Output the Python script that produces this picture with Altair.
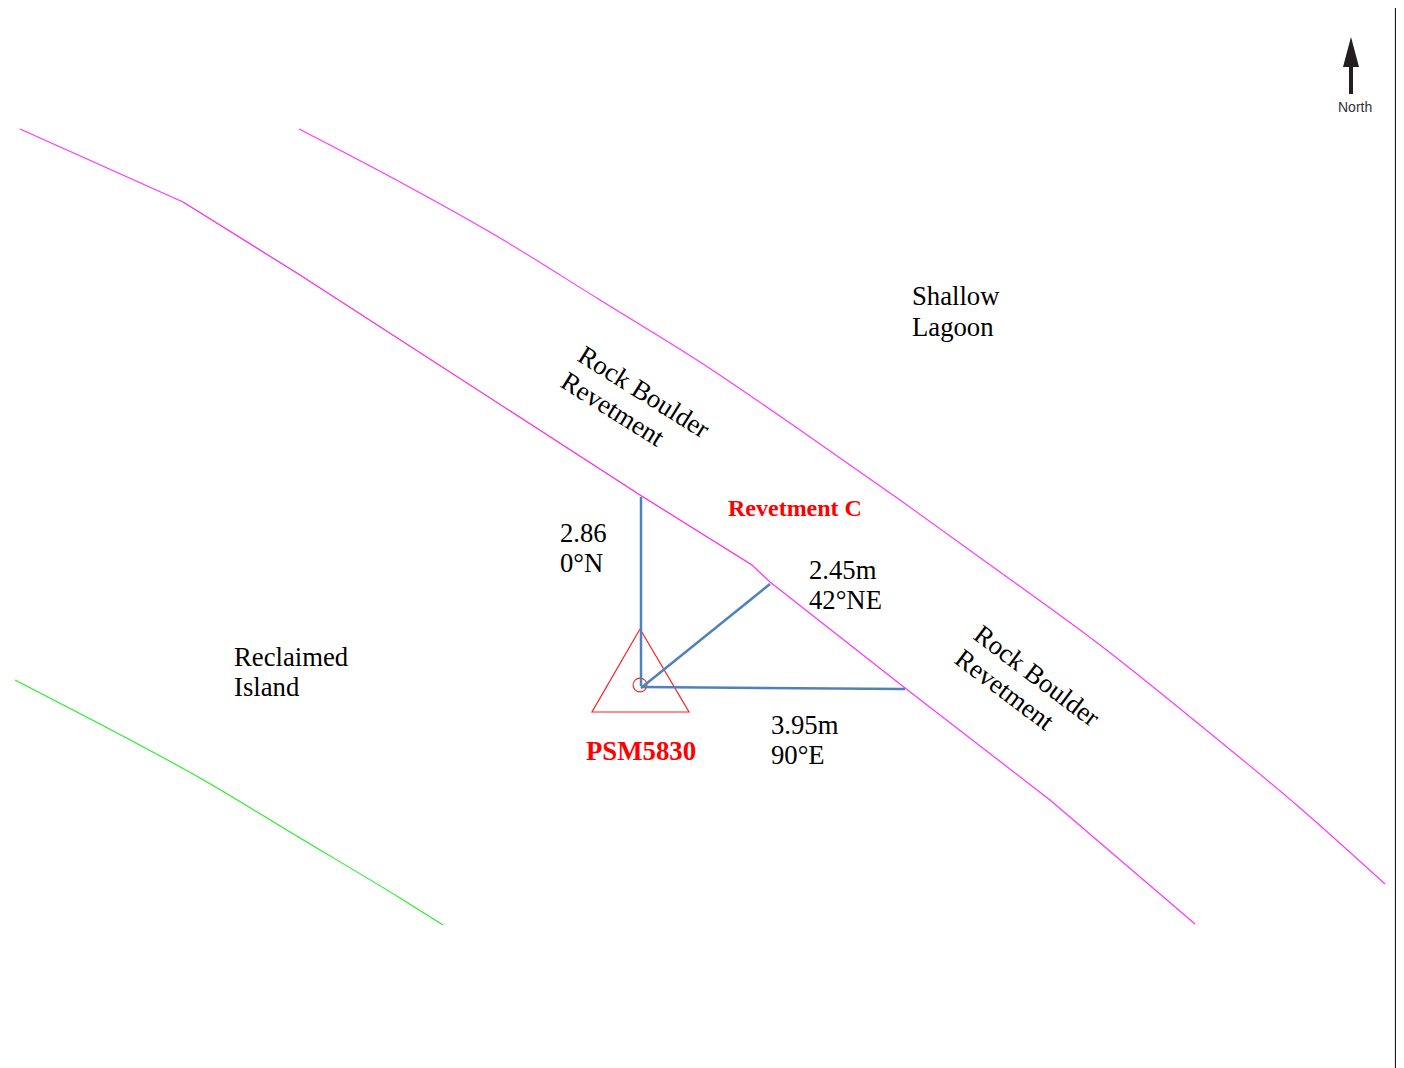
import altair as alt
import pandas as pd

# Map coordinates (x east, y south)
rev_inner_x = [20, 183, 300, 640, 752, 770, 905, 1050, 1195]
rev_inner_y = [129, 202, 275, 495, 565, 582, 688, 800, 924]
rev_outer_x = [299, 400, 500, 600, 700, 800, 900, 1000, 1100, 1200, 1300, 1385]
rev_outer_y = [129, 182, 238, 300, 362, 430, 500, 572, 645, 725, 808, 884]
seam_x = [183, 300, 640, 752]
seam_y = [202, 275, 495, 565]
green_x = [15, 100, 200, 300, 400, 443]
green_y = [680, 724, 778, 838, 898, 925]
north_x = [641, 641]
north_y = [497, 686]
ne_x = [641, 770]
ne_y = [688, 584]
east_x = [641, 905]
east_y = [687, 689]
tri_x = [640, 592, 689, 640]
tri_y = [629, 712, 712, 629]
station_x = [640]
station_y = [685]
arrow_head_x = [1343, 1351, 1359]
arrow_head_y = [67, 37, 67]
arrow_shaft_x = [1351, 1351]
arrow_shaft_y = [66, 94]
frame_x = [1395.5, 1395.5]
frame_y = [0, 1068]

plain_labels = ["Shallow", "Lagoon", "Reclaimed", "Island", "2.86", "0°N", "2.45m", "42°NE", "3.95m", "90°E"]
plain_x = [912, 912, 234, 234, 560, 560, 809, 809, 771, 771]
plain_y = [305, 336, 666, 696, 542, 572, 579, 609, 734, 764]
red_labels = ["Revetment C", "PSM5830"]
red_x = [728, 586]
red_y = [516, 760]
red_sizes = [24, 26.8]
rot1_labels = ["Rock Boulder", "Revetment"]
rot1_x = [576, 559]
rot1_y = [360, 386]
rot2_labels = ["Rock Boulder", "Revetment"]
rot2_x = [972, 953]
rot2_y = [638, 662]

X0, X1, Y0, Y1 = 8, 1396, 8, 1068
xs = alt.Scale(domain=[X0, X1], range=[0, X1 - X0], nice=False, zero=False)
ys = alt.Scale(domain=[Y0, Y1], range=[0, Y1 - Y0], nice=False, zero=False)
X = alt.X("x:Q", scale=xs, axis=None)
Y = alt.Y("y:Q", scale=ys, axis=None)


def df(x, y, **kw):
    d = pd.DataFrame({"x": x, "y": y, **kw})
    d["o"] = range(len(d))
    return d


def line(x, y, color, w, interpolate="linear"):
    return alt.Chart(df(x, y)).mark_line(
        color=color, strokeWidth=w, clip=True, interpolate=interpolate
    ).encode(x=X, y=Y, order="o:Q")


def text(labels, x, y, color="#000000", size=26.7, weight="normal", angle=0, font="Liberation Serif"):
    return alt.Chart(df(x, y, t=labels)).mark_text(
        font=font, fontSize=size, fontWeight=weight, color=color, align="left",
        baseline="alphabetic", angle=angle,
    ).encode(x=X, y=Y, text="t:N")


layers = [
    line(frame_x, frame_y, "#1a1a1a", 1.2),
    line(seam_x, seam_y, "#ff7030", 1.0),
    line(rev_inner_x, rev_inner_y, "#ff33ff", 1.2),
    line(rev_outer_x, rev_outer_y, "#ff33ff", 1.1, "monotone"),
    line(green_x, green_y, "#22ee22", 1.1, "monotone"),
    line(tri_x, tri_y, "#ff2020", 1.2),
    alt.Chart(df(station_x, station_y)).mark_point(
        shape="circle", size=190, color="#ff2020", strokeWidth=1.1, filled=False, opacity=1
    ).encode(x=X, y=Y),
    line(north_x, north_y, "#4f81bd", 2.5),
    line(ne_x, ne_y, "#4f81bd", 2.5),
    line(east_x, east_y, "#4f81bd", 2.5),
    line(arrow_shaft_x, arrow_shaft_y, "#231f20", 4),
    alt.Chart(df(arrow_head_x, arrow_head_y, y2=[67, 67, 67])).mark_area(color="#231f20").encode(
        x=X, y=Y, y2="y2:Q"
    ),
    text(plain_labels, plain_x, plain_y),
    text(rot1_labels, rot1_x, rot1_y, angle=32),
    text(rot2_labels, rot2_x, rot2_y, angle=37),
    alt.Chart(df(red_x, red_y, t=red_labels, s=red_sizes)).mark_text(
        font="Liberation Serif", fontWeight="bold", color="#ff0000", align="left", baseline="alphabetic"
    ).encode(x=X, y=Y, text="t:N", size=alt.Size("s:Q", scale=None, legend=None)),
    text(["North"], [1338], [112], color="#333333", size=14, font="Liberation Sans"),
]

chart = (
    alt.layer(*layers)
    .properties(width=X1 - X0, height=Y1 - Y0, padding=0, background="#ffffff")
    .configure_view(strokeWidth=0, stroke="transparent")
)
chart.save("out.html", embed_options={"renderer": "svg", "actions": False})
